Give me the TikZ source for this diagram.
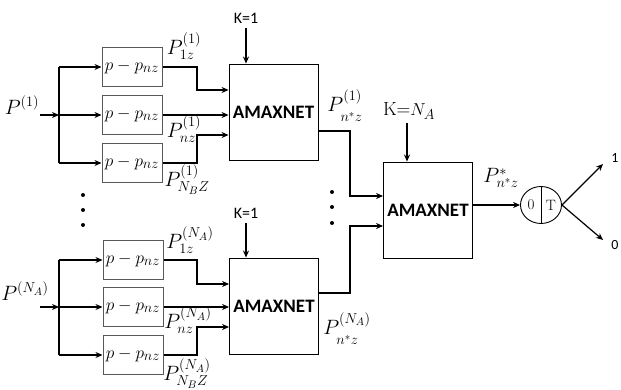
\documentclass[tikz,border=0pt]{standalone}
\usepackage{fontspec}
\setsansfont{Carlito}
\usetikzlibrary{arrows.meta,shapes.geometric}
\newcommand{\lsub}[1]{{\vphantom{(}#1}}
\newcommand{\lsubb}[1]{{\vphantom{\big(}#1}}
\begin{document}
\begin{tikzpicture}[x=1pt,y=-1pt,
  conn/.style={line width=1.5pt,-{Stealth[length=7pt,width=6pt]}},
  wire/.style={line width=1.5pt},
  subbox/.style={draw=black!65,line width=1pt,minimum width=60pt,minimum height=39pt,inner sep=0pt,font=\fontsize{19}{19}\selectfont},
  amax/.style={draw,line width=0.9pt,minimum width=89pt,minimum height=96pt,inner sep=0pt,font=\sffamily\bfseries\fontsize{19}{19}\selectfont},
  lab/.style={inner sep=0pt,font=\fontsize{21}{21}\selectfont},
  klab/.style={inner sep=0pt,font=\sffamily\fontsize{16}{16}\selectfont},
  dot/.style={circle,fill,inner sep=0pt,minimum size=4pt}]
\useasboundingbox (0,0) rectangle (621,390);
% ---------- top group ----------
\node[lab] (in1) at (22,105) {$P^{(1)}$};
\coordinate (in1s) at (40,115);
\coordinate (br1) at (59,115);
\coordinate (br1t) at (59,67);
\coordinate (br1b) at (59,163);
\node[subbox] (b11) at (132,67) {$p-p_{nz}$};
\node[subbox] (b12) at (132,115) {$p-p_{nz}$};
\node[subbox] (b13) at (132,163) {$p-p_{nz}$};
\node[amax] (am1) at (273.5,112) {AMAXNET};
\node[klab] (k1) at (246,18) {K=1};
\draw[conn] (in1s) -- (br1);
\draw[wire] (br1t) -- (br1b);
\draw[conn] (br1t) -- (b11.west);
\draw[conn] (br1) -- (b12.west);
\draw[conn] (br1b) -- (b13.west);
\draw[conn] (b11.east) -- (197,67) -- (197,90) -- (am1.west |- 0,90);
\draw[conn] (b12.east) -- (am1.west |- 0,115);
\draw[conn] (b13.east) -- (197,163) -- (197,135) -- (am1.west |- 0,135);
\draw[conn] (k1.south) ++(0,5) coordinate (k1s) -- (am1.north -| k1s);
\node[lab] (l11) at (184,48) {$P^{(1)}_{\lsub{1z}}$};
\node[lab] (l12) at (184,131) {$P^{(1)}_{\lsub{nz}}$};
\node[lab] (l13) at (187,180) {$P^{(1)}_{\lsub{N_B Z}}$};
% dots
\node[dot] (d1) at (83,195) {};
\node[dot] (d2) at (83,210) {};
\node[dot] (d3) at (83,225) {};
% ---------- bottom group ----------
\node[lab] (in2) at (25,291) {$P^{(N_A)}$};
\coordinate (in2s) at (40,307);
\coordinate (br2) at (59,307);
\coordinate (br2t) at (59,260);
\coordinate (br2b) at (59,355);
\node[subbox] (b21) at (133,260) {$p-p_{nz}$};
\node[subbox] (b22) at (133,307) {$p-p_{nz}$};
\node[subbox] (b23) at (133,355) {$p-p_{nz}$};
\node[amax] (am2) at (274,306) {AMAXNET};
\node[klab] (k2) at (246,213) {K=1};
\draw[conn] (in2s) -- (br2);
\draw[wire] (br2t) -- (br2b);
\draw[conn] (br2t) -- (b21.west);
\draw[conn] (br2) -- (b22.west);
\draw[conn] (br2b) -- (b23.west);
\draw[conn] (b21.east) -- (197,260) -- (197,284) -- (am2.west |- 0,284);
\draw[conn] (b22.east) -- (am2.west |- 0,307);
\draw[conn] (b23.east) -- (197,355) -- (197,327) -- (am2.west |- 0,327);
\draw[conn] (k2.south) ++(0,5) coordinate (k2s) -- (am2.north -| k2s);
\node[lab] (l21) at (190,242) {$P^{(N_A)}_{\lsub{1z}}$};
\node[lab] (l22) at (188,322) {$P^{(N_A)}_{\lsub{nz}}$};
\node[lab] (l23) at (187,374) {$P^{(N_A)}_{\lsub{N_B Z}}$};
% ---------- final stage ----------
\node[amax] (am3) at (428,210) {AMAXNET};
\node[lab,font=\fontsize{19}{19}\selectfont] (k3) at (409,111) {K=$N_A$};
\draw[conn] (407,123) coordinate (k3s) -- (am3.north -| k3s);
\draw[conn] (am1.east |- 0,131) -- (350,131) -- (350,196) -- (am3.west |- 0,196);
\draw[conn] (am2.east |- 0,293) -- (350,293) -- (350,226) -- (am3.west |- 0,226);
\node[dot] (d4) at (332,192) {};
\node[dot] (d5) at (332,207) {};
\node[dot] (d6) at (332,223) {};
\node[lab] (l31) at (345,108) {$P^{(1)}_{\lsubb{n^*z}}$};
\node[lab] (l32) at (347,331) {$P^{(N_A)}_{\lsubb{n^*z}}$};
\node[lab] (l33) at (501,178) {$P^{*}_{n^*z}$};
\node[ellipse,draw,line width=0.9pt,minimum width=41pt,minimum height=37pt,inner sep=0pt] (th) at (541,205) {};
\draw[line width=0.9pt] (th.north) -- (th.south);
\node[inner sep=0pt,font=\fontsize{15}{15}\selectfont] (t0) at (531,205) {0};
\node[inner sep=0pt,font=\fontsize{15}{15}\selectfont] (tT) at (551,205) {T};
\draw[conn,line width=1.2pt] (am3.east |- 0,205) -- (th.west);
\node[klab,font=\sffamily\fontsize{14}{14}\selectfont] (o1) at (615,158) {1};
\node[klab,font=\sffamily\fontsize{14}{14}\selectfont] (o0) at (615,245) {0};
\draw[conn,line width=1.2pt] (th.east) -- (603,164);
\draw[conn,line width=1.2pt] (th.east) -- (603,240);
\end{tikzpicture}
\end{document}
